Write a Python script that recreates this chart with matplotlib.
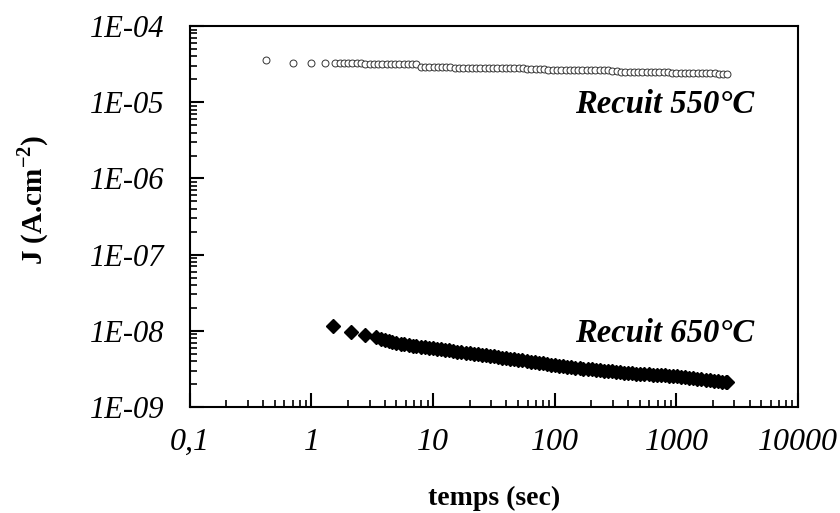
import matplotlib.pyplot as plt
from matplotlib.ticker import LogLocator, NullFormatter

# ------------------------------------------------------------------------------------- #
# Data
# ------------------------------------------------------------------------------------- #

# Recuit 550 C (open circles), J in units of 1E-05 A/cm2
t550 = [0.42, 0.71, 1.0, 1.28,
        1.57, 1.7, 1.84, 2.0, 2.17, 2.35, 2.55, 2.76, 3.0, 3.25,
        3.52, 3.82, 4.14, 4.49, 4.87, 5.28, 5.72, 6.2, 6.72, 7.29,
        7.9, 8.56, 9.28, 10.1, 10.9, 11.8, 12.8, 13.9, 15.1, 16.3,
        17.7, 19.2, 20.8, 22.5, 24.4, 26.5, 28.7, 31.1, 33.7, 36.6,
        39.6, 43.0, 46.6, 50.5, 54.7,
        59.3, 64.3, 69.7, 75.6, 81.9, 88.8, 96.3, 104, 113, 123,
        133, 144, 156, 169, 184, 199, 216, 234, 254, 275,
        298, 323, 350, 380, 412, 446, 484, 525, 569, 617,
        668, 725, 785, 851,
        923, 1000, 1085, 1176, 1275, 1382, 1498, 1624, 1760, 1908,
        2069, 2242, 2431, 2630]
j550 = [3.59, 3.30, 3.30, 3.28,
        3.26, 3.25, 3.25, 3.24, 3.24, 3.23, 3.23, 3.22, 3.22, 3.21,
        3.21, 3.20, 3.20, 3.19, 3.19, 3.19, 3.18, 3.18, 3.18, 3.17,
        2.88, 2.88, 2.87, 2.87, 2.87, 2.86, 2.86, 2.86, 2.85, 2.85,
        2.84, 2.84, 2.84, 2.83, 2.83, 2.83, 2.82, 2.82, 2.82, 2.81,
        2.81, 2.81, 2.80, 2.80, 2.80,
        2.71, 2.71, 2.70, 2.70, 2.70, 2.69, 2.69, 2.69, 2.68, 2.68,
        2.68, 2.67, 2.67, 2.67, 2.66, 2.66, 2.66, 2.65, 2.65, 2.65,
        2.54, 2.54, 2.53, 2.53, 2.53, 2.52, 2.52, 2.52, 2.51, 2.51,
        2.51, 2.50, 2.50, 2.50,
        2.42, 2.42, 2.41, 2.41, 2.41, 2.40, 2.40, 2.40, 2.39, 2.39,
        2.39, 2.38, 2.38, 2.38]

# Recuit 650 C (filled diamonds), J in units of 1E-09 A/cm2
t650 = [1.5, 2.1, 2.75,
        3.4, 3.7, 4.0, 4.3, 4.6, 5.0, 5.4, 5.8, 6.3, 6.8,
        7.3, 7.9, 8.5, 9.2, 10, 10.8, 11.6, 12.6, 13.6, 14.7,
        15.8, 17.1, 18.5, 20, 21.6, 23.3, 25.2, 27.2, 29.3, 31.7,
        34.2, 37, 39.9, 43.1, 46.6, 50.3, 54.3, 58.7, 63.4, 68.4,
        73.9, 79.8, 86.2, 93.1, 100, 109, 117, 127, 137, 148,
        160, 172, 186, 201, 217, 235, 253, 274, 296, 319,
        345, 372, 402, 434, 469, 507, 547, 591, 638, 689,
        744, 804, 868, 938, 1013, 1094, 1181, 1276, 1378, 1488,
        1607, 1736, 1875, 2025, 2187, 2362, 2550, 2630]
j650 = [11.5, 9.7, 8.8,
        8.2, 7.9, 7.6, 7.4, 7.2, 6.9, 6.8, 6.65, 6.5, 6.4,
        6.3, 6.2, 6.1, 6.0, 5.95, 5.85, 5.75, 5.65, 5.55, 5.45,
        5.35, 5.25, 5.15, 5.05, 4.98, 4.9, 4.82, 4.75, 4.68, 4.62,
        4.55, 4.45, 4.38, 4.3, 4.22, 4.15, 4.08, 4.0, 3.95, 3.88,
        3.82, 3.75, 3.68, 3.6, 3.55, 3.5, 3.45, 3.4, 3.35, 3.3,
        3.25, 3.2, 3.15, 3.12, 3.1, 3.05, 3.0, 2.97, 2.93, 2.9,
        2.85, 2.8, 2.78, 2.76, 2.74, 2.72, 2.7, 2.68, 2.66, 2.64,
        2.62, 2.6, 2.58, 2.56, 2.54, 2.5, 2.46, 2.42, 2.38, 2.34,
        2.3, 2.27, 2.24, 2.21, 2.18, 2.16, 2.15, 2.14]

xticks = [0.1, 1, 10, 100, 1000, 10000]
xticklabels = ['0,1', '1', '10', '100', '1000', '10000']
yticks = [1e-9, 1e-8, 1e-7, 1e-6, 1e-5, 1e-4]
yticklabels = ['1E-09', '1E-08', '1E-07', '1E-06', '1E-05', '1E-04']

# ------------------------------------------------------------------------------------- #

plt.rcParams['font.family'] = 'Liberation Serif'
plt.rcParams['mathtext.fontset'] = 'custom'
plt.rcParams['mathtext.rm'] = 'Liberation Serif:bold'
plt.rcParams['mathtext.bf'] = 'Liberation Serif:bold'

fig = plt.figure(figsize=(8.4, 5.13), dpi=100)
ax = fig.add_axes([0.226, 0.2066, 0.724, 0.7426])

ax.plot(t550, [v * 1e-5 for v in j550], linestyle='none', marker='o', markersize=5,
        markerfacecolor='white', markeredgecolor='#333333', markeredgewidth=0.7)
ax.plot(t650, [v * 1e-9 for v in j650], linestyle='none', marker='D', markersize=7.5,
        color='black')

ax.set_xscale('log')
ax.set_yscale('log')
ax.set_xlim(0.1, 10000)
ax.set_ylim(1e-9, 1e-4)

ax.set_xticks(xticks)
ax.set_xticklabels(xticklabels, fontsize=23, style='italic')
ax.set_yticks(yticks)
ax.set_yticklabels(yticklabels, fontsize=22, style='italic')
ax.xaxis.set_minor_locator(LogLocator(base=10, subs=range(2, 10), numticks=20))
ax.yaxis.set_minor_locator(LogLocator(base=10, subs=range(2, 10), numticks=20))
ax.xaxis.set_minor_formatter(NullFormatter())
ax.yaxis.set_minor_formatter(NullFormatter())

ax.tick_params(which='major', direction='in', length=10, width=1.5,
               top=False, right=False)
ax.tick_params(which='minor', direction='in', length=5, width=1.2,
               top=False, right=False)
ax.tick_params(axis='x', which='major', pad=15)
ax.tick_params(axis='y', which='major', pad=18)
for s in ax.spines.values():
    s.set_linewidth(1.5)

ax.set_xlabel('temps (sec)', fontsize=20, fontweight='bold')
ax.xaxis.set_label_coords(0.50, -0.207)
ax.set_ylabel('J (A.cm$^{-2}$)', fontsize=21, fontweight='bold')
ax.yaxis.set_label_coords(-0.228, 0.543)

ax.text(0.633, 0.793, 'Recuit 550°C', transform=ax.transAxes, fontsize=23.5,
        fontweight='bold', style='italic', va='center', ha='left')
ax.text(0.633, 0.194, 'Recuit 650°C', transform=ax.transAxes, fontsize=23.5,
        fontweight='bold', style='italic', va='center', ha='left')

plt.savefig('out.png', dpi=100)
